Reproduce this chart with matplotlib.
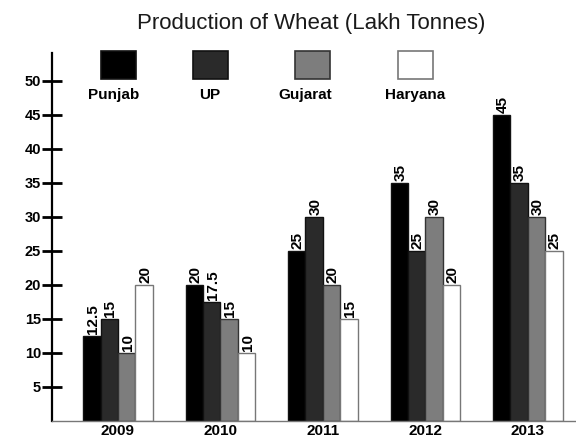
import numpy as np
import matplotlib
matplotlib.use("Agg")
import matplotlib.pyplot as plt
from matplotlib.patches import Rectangle

plt.rcParams['font.family'] = ['Liberation Sans', 'DejaVu Sans']

##### Data #####
years = ['2009', '2010', '2011', '2012', '2013']
states = ['Punjab', 'UP', 'Gujarat', 'Haryana']
punjab = [12.5, 20, 25, 35, 45]
up = [15, 17.5, 30, 25, 35]
gujarat = [10, 15, 20, 30, 30]
haryana = [20, 10, 15, 20, 25]
yticks = [5, 10, 15, 20, 25, 30, 35, 40, 45, 50]

series = [punjab, up, gujarat, haryana]
colors = ['#000000', '#2a2a2a', '#7d7d7d', '#ffffff']
edges = ['#111111', '#111111', '#333333', '#777777']

fig = plt.figure(figsize=(5.76, 4.41), dpi=100)
ax = fig.add_axes([52/576, 20/441, 1 - 52/576, (421-53)/441])

x = np.arange(len(years))
w = 0.17
for i, vals in enumerate(series):
    pos = x + (i - 1.5) * w
    bars = ax.bar(pos, vals, w, color=colors[i], edgecolor=edges[i], linewidth=1.0)
    for b, v in zip(bars, vals):
        txt = ('%g' % v)
        ax.text(b.get_x() + b.get_width()/2 + 0.01, v + 0.3, txt, rotation=90,
                ha='center', va='bottom', fontsize=11, fontweight='bold')

ax.set_xlim(-0.644, 4.47)
ax.set_ylim(0, 54.1)
ax.set_yticks(yticks)
ax.set_yticklabels([str(t) for t in yticks], fontsize=10.5, fontweight='bold')
ax.set_xticks(x)
ax.set_xticklabels(years, fontsize=11, fontweight='bold')
ax.tick_params(axis='x', length=0, pad=2.5)
ax.tick_params(axis='y', direction='inout', length=14, width=2, pad=1)

for s in ['top', 'right']:
    ax.spines[s].set_visible(False)
ax.spines['left'].set_linewidth(1.6)
ax.spines['bottom'].set_color('#777777')
ax.spines['bottom'].set_linewidth(1)

##### Title #####
fig.text(311/576, 1 - 24/441, 'Production of Wheat (Lakh Tonnes)', ha='center', va='center',
         fontsize=16, color='#1a1a1a')

##### Legend drawn by hand #####
leg_x = [118, 210, 312, 415]
lab_x = [114, 210, 305, 415]
for i, name in enumerate(states):
    cx = leg_x[i]
    fig.patches.append(Rectangle(((cx - 17)/576, 1 - 79/441), 35/576, 28/441,
                                 transform=fig.transFigure, facecolor=colors[i],
                                 edgecolor=edges[i], linewidth=1.2))
    fig.text(lab_x[i]/576, 1 - 99/441, name, ha='center', va='baseline',
             fontsize=11, fontweight='bold')

fig.savefig('out.png', dpi=100)
